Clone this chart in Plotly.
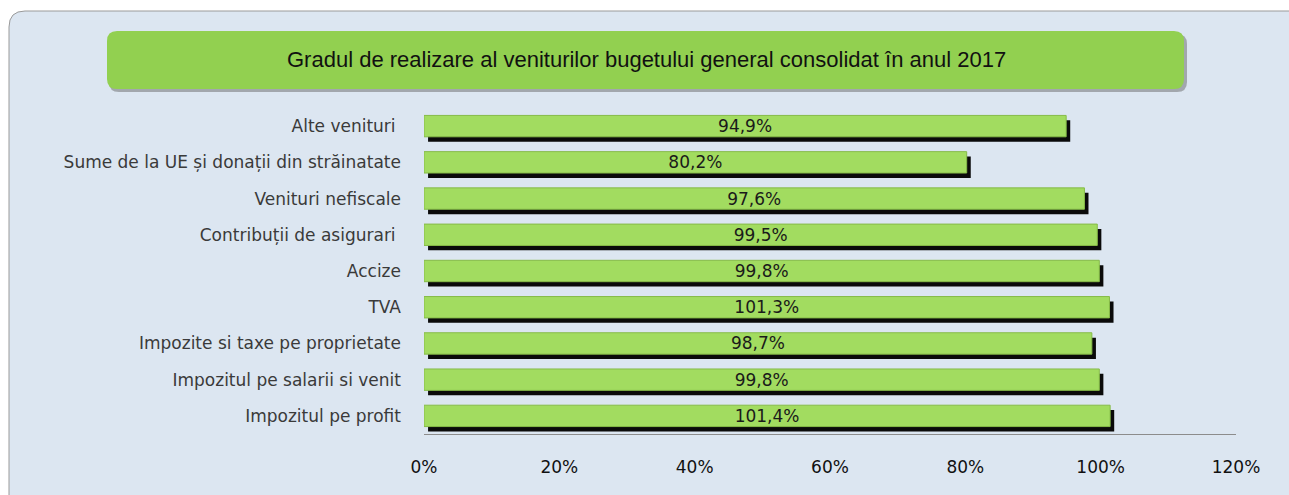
import plotly.graph_objects as go

# Categories from the bottom bar to the top bar
categories = [
    "Impozitul pe profit",
    "Impozitul pe salarii si venit",
    "Impozite si taxe pe proprietate",
    "TVA",
    "Accize",
    "Contribuții de asigurari ",
    "Venituri nefiscale",
    "Sume de la UE și donații din străinatate",
    "Alte venituri ",
]
realizare = [101.4, 99.8, 98.7, 101.3, 99.8, 99.5, 97.6, 80.2, 94.9]
x_ticks = [0, 20, 40, 60, 80, 100, 120]
x_tick_labels = ["0%", "20%", "40%", "60%", "80%", "100%", "120%"]
title_text = "Gradul de realizare al veniturilor bugetului general consolidat în anul 2017"

# plot area in pixels (used only to place the decorative frame and title box)
L, R, T, B = 424, 1236, 108, 434
W, H = R - L, B - T


def px(x):
    return (x - L) / W


def py(y):
    return (B - y) / H


def rounded_rect(x0, y0, x1, y1, r):
    return (f"M {px(x0)},{py(y0 + r)} Q {px(x0)},{py(y0)} {px(x0 + r)},{py(y0)} "
            f"L {px(x1 - r)},{py(y0)} Q {px(x1)},{py(y0)} {px(x1)},{py(y0 + r)} "
            f"L {px(x1)},{py(y1 - r)} Q {px(x1)},{py(y1)} {px(x1 - r)},{py(y1)} "
            f"L {px(x0 + r)},{py(y1)} Q {px(x0)},{py(y1)} {px(x0)},{py(y1 - r)} Z")


bar_w = 0.59
fig = go.Figure()

# shadow behind each bar
fig.add_trace(go.Bar(
    y=categories,
    x=realizare,
    base=0.6,
    orientation='h',
    width=bar_w,
    offset=-bar_w / 2 - 0.135,
    marker=dict(color='#0a0a0a', line=dict(width=0)),
    hoverinfo='skip',
    showlegend=False,
))

# green bars
fig.add_trace(go.Bar(
    y=categories,
    x=realizare,
    orientation='h',
    width=bar_w,
    offset=-bar_w / 2,
    marker=dict(color='#a2dc60', line=dict(color='#86bb48', width=1)),
    texttemplate='%{x:.1f}%',
    textposition='inside',
    insidetextanchor='middle',
    constraintext='none',
    textfont=dict(family='DejaVu Sans', size=17, color='#1a1a1a'),
    showlegend=False,
))

shapes = [
    # light blue panel behind everything
    dict(type='path', xref='paper', yref='paper', layer='below',
         path=rounded_rect(9, 11, 1310, 520, 16),
         fillcolor='#dce6f1', line=dict(color='#9a9a9a', width=1)),
    # title box shadow and box
    dict(type='path', xref='paper', yref='paper', layer='below',
         path=rounded_rect(109, 34, 1187, 92, 10),
         fillcolor='rgba(90,90,90,0.45)', line=dict(width=0)),
    dict(type='path', xref='paper', yref='paper', layer='below',
         path=rounded_rect(107, 31, 1184, 89, 10),
         fillcolor='#92d050', line=dict(width=0)),
]

fig.update_layout(
    width=1289,
    height=495,
    margin=dict(l=L, r=1289 - R, t=T, b=495 - B),
    paper_bgcolor='white',
    plot_bgcolor='rgba(0,0,0,0)',
    barmode='overlay',
    separators=', ',
    shapes=shapes,
    annotations=[dict(
        text=title_text, xref='paper', yref='paper',
        x=px(646), y=py(60), xanchor='center', yanchor='middle',
        showarrow=False,
        font=dict(family='Liberation Sans', size=22, color='#111111'),
    )],
    xaxis=dict(
        range=[0, 120],
        tickmode='array',
        tickvals=x_ticks,
        ticktext=x_tick_labels,
        showgrid=False,
        zeroline=False,
        showline=True,
        linecolor='#8c8c8c',
        linewidth=1,
        ticks='',
        ticklabelstandoff=18,
        tickfont=dict(family='DejaVu Sans', size=17, color='#111111'),
    ),
    yaxis=dict(
        type='category',
        categoryorder='array',
        categoryarray=categories,
        range=[-0.5, 8.5],
        showgrid=False,
        zeroline=False,
        showline=False,
        ticks='',
        ticklabelstandoff=22,
        tickfont=dict(family='DejaVu Sans', size=17, color='#3a3a3a'),
    ),
)

# drop the default page margin so the figure sits at the window's top-left corner
fig.write_html("out.html", config={'displayModeBar': False},
               post_script="document.body.style.margin='0';")
